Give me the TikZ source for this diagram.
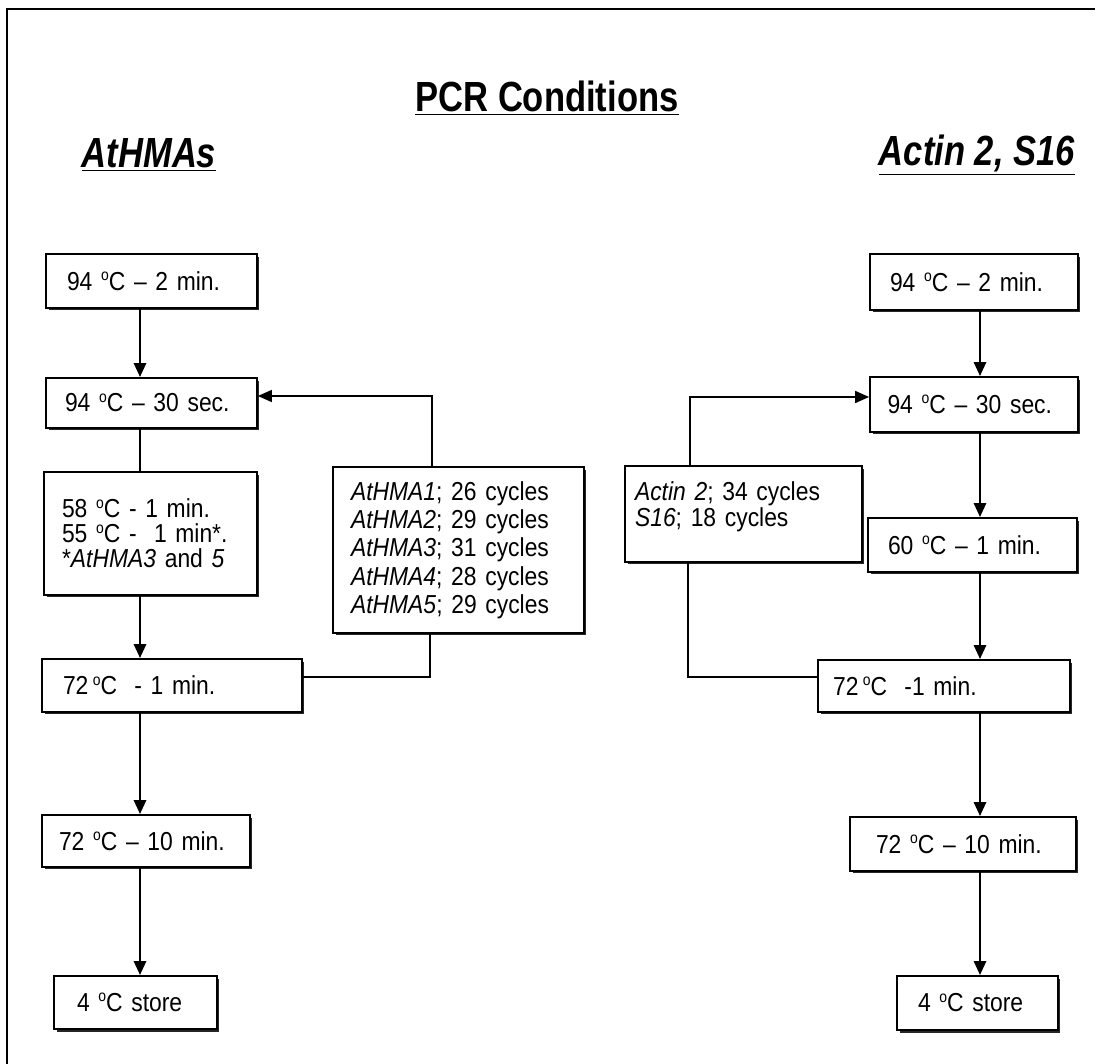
\documentclass[tikz,border=0pt]{standalone}
\usepackage{fontspec}
\setmainfont{Liberation Sans}[FakeStretch=0.88]
\newfontfamily\headfont{Liberation Sans}[FakeStretch=0.82]
\usetikzlibrary{positioning,arrows.meta,shadows}

\newcommand{\degC}{\raisebox{0.7ex}{\fontsize{9}{9}\selectfont o}C}

\begin{document}
\begin{tikzpicture}[
    x=0.02cm, y=-0.02cm,
    font=\fontsize{14.8}{16}\selectfont,
    stage/.style={draw, line width=1pt, fill=white, inner xsep=0pt, inner ysep=2pt, align=left,
      drop shadow={shadow xshift=0.05cm, shadow yshift=-0.05cm, fill=black!85, opacity=1}},
    head/.style={font=\headfont\fontsize{24}{28}\selectfont\bfseries},
    flow/.style={-{Triangle[length=0.28cm, width=0.24cm]}, line width=1.6pt},
    link/.style={line width=0.9pt},
  ]
  \useasboundingbox (0,0) rectangle (1096,1064);
  % frame
  \draw[line width=1.1pt] (7,1064) -- (7,9) -- (1095,9);

  % headings
  \node[head] (title) at (547,98) {\underline{PCR Conditions}};
  \node[head] (lhead) at (149,155) {\underline{\textit{AtHMAs}}};
  \node[head] (rhead) at (977,155) {\underline{\textit{Actin 2, S16}}};

  % AtHMAs column
  \node[stage, minimum width=4.22cm, minimum height=1.08cm, text width=3.38cm]
    (b1) at (151.5,281) {94 \degC{} -- 2 min.};
  \node[stage, minimum width=4.22cm, minimum height=1.0cm, text width=3.46cm]
    (b2) at (151.5,403) {94 \degC{} -- 30 sec.};
  \node[stage, minimum width=4.26cm, minimum height=2.46cm, text width=3.54cm,
        font=\fontsize{14.8}{14.2}\selectfont]
    (b3) at (150.5,533.5) {58 \degC{} - 1 min.\\55 \degC{} - \ 1 min*.\\{}*\textit{AtHMA3} and \textit{5}};
  \node[stage, minimum width=5.2cm, minimum height=1.06cm, text width=4.36cm]
    (b4) at (172,685.5) {72\,\degC{} \ - 1 min.};
  \node[stage, minimum width=4.16cm, minimum height=1.04cm, text width=3.48cm]
    (b5) at (146,841) {72 \degC{} -- 10 min.};
  \node[stage, minimum width=3.26cm, minimum height=1.06cm, text width=2.34cm]
    (b6) at (135.5,1002.5) {4 \degC{} store};

  % cycle numbers
  \node[stage, minimum width=5.02cm, minimum height=3.32cm, text width=4.3cm,
        font=\fontsize{14.8}{16.1}\selectfont]
    (m1) at (458.5,550) {\textit{AtHMA1}; 26 cycles\\\textit{AtHMA2}; 29 cycles\\\textit{AtHMA3}; 31 cycles\\\textit{AtHMA4}; 28 cycles\\\textit{AtHMA5}; 29 cycles};
  \node[stage, minimum width=4.74cm, text width=4.34cm, inner ysep=0.3cm,
        text height=0.38cm, text depth=0.94cm, font=\fontsize{14.8}{15.2}\selectfont]
    (a1) at (743.5,514) {\textit{Actin 2}; 34 cycles\\\textit{S16}; 18 cycles};

  % Actin 2, S16 column
  \node[stage, minimum width=4.16cm, minimum height=1.12cm, text width=3.36cm]
    (r1) at (974,282) {94 \degC{} -- 2 min.};
  \node[stage, minimum width=4.16cm, minimum height=1.1cm, text width=3.46cm]
    (r2) at (974,404.5) {94 \degC{} -- 30 sec.};
  \node[stage, minimum width=4.18cm, minimum height=1.08cm, text width=3.38cm]
    (r3) at (972.5,545) {60 \degC{} -- 1 min.};
  \node[stage, minimum width=5.04cm, minimum height=1.04cm, text width=4.44cm]
    (r4) at (944,686) {72\,\degC{} \ -1 min.};
  \node[stage, minimum width=4.52cm, minimum height=1.08cm, text width=3.48cm]
    (r5) at (963,844) {72 \degC{} -- 10 min.};
  \node[stage, minimum width=3.22cm, minimum height=1.08cm, text width=2.38cm]
    (r6) at (977.5,1003) {4 \degC{} store};

  % column axes and loop corners
  \coordinate (lcol) at (140,0);
  \coordinate (rcol) at (980,0);
  \coordinate (lup) at (432,396);
  \coordinate (ldn) at (430,677);
  \coordinate (rup) at (690,397);
  \coordinate (rdn) at (688,677);

  \draw[flow] (b1.south -| lcol) -- (b2.north -| lcol);
  \draw[line width=1.2pt] (b2.south -| lcol) -- (b3.north -| lcol);
  \draw[flow] (b3.south -| lcol) -- (b4.north -| lcol);
  \draw[flow] (b4.south -| lcol) -- (b5.north -| lcol);
  \draw[flow] (b5.south -| lcol) -- (b6.north -| lcol);

  \draw[flow] (r1.south -| rcol) -- (r2.north -| rcol);
  \draw[flow] (r2.south -| rcol) -- (r3.north -| rcol);
  \draw[flow] (r3.south -| rcol) -- (r4.north -| rcol);
  \draw[flow] (r4.south -| rcol) -- (r5.north -| rcol);
  \draw[flow] (r5.south -| rcol) -- (r6.north -| rcol);

  % repeat loops
  \draw[link, -{Triangle[length=0.28cm, width=0.24cm]}] (lup |- m1.north) -- (lup) -- (lup -| b2.east);
  \draw[link] (ldn |- m1.south) -- (ldn) -- (ldn -| b4.east);
  \draw[link, -{Triangle[length=0.28cm, width=0.24cm]}] (rup |- a1.north) -- (rup) -- (rup -| r2.west);
  \draw[link] (rdn |- a1.south) -- (rdn) -- (rdn -| r4.west);
\end{tikzpicture}
\end{document}
